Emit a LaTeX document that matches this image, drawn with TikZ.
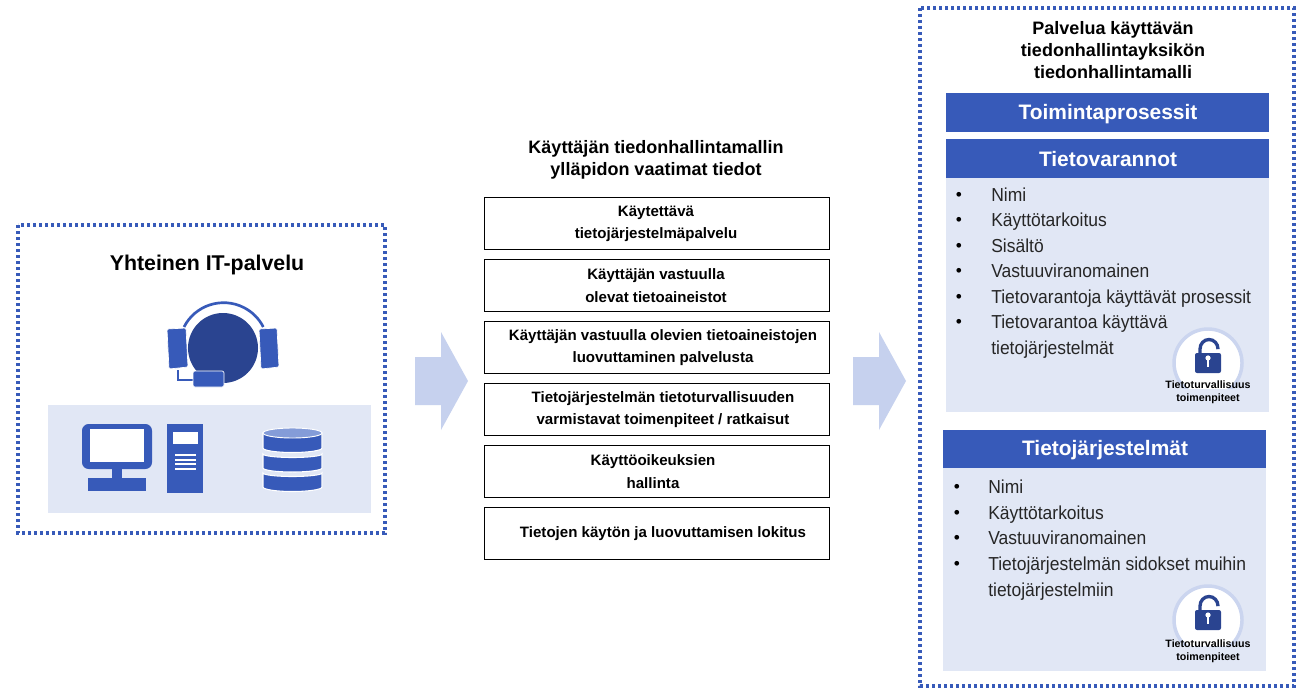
\documentclass[tikz,border=0pt]{standalone}
\usepackage{fontspec}
\setmainfont{Liberation Sans}
\newfontfamily\condfont[FakeStretch=0.93]{Liberation Sans}
\definecolor{blu}{HTML}{375AB9}
\definecolor{dkblu}{HTML}{2A4490}
\definecolor{pale}{HTML}{E1E7F5}
\definecolor{arrowc}{HTML}{C6D1EE}
\definecolor{dbtop}{HTML}{849CD8}
\definecolor{ringc}{HTML}{CBD5EF}
\newcommand{\fs}[1]{\fontsize{#1}{#1}\selectfont}
\tikzset{
 x=0.75pt,y=-0.75pt,
 dotbox/.style={draw=blu,line width=2.6pt,dash pattern=on 2.4pt off 2.1pt},
 infobox/.style={draw=black,line width=0.75pt,fill=white,minimum width=258.75pt,minimum height=39pt,inner sep=0pt},
 boxtext/.style={font=\bfseries\fs{11.3},align=center,text=black,inner sep=0pt},
 headtext/.style={font=\bfseries\fs{13.5},align=center,text=black,inner sep=0pt},
 bandtext/.style={font=\bfseries\fs{15.7},text=white,inner sep=0pt},
 listtext/.style={font=\condfont\fs{14.1},anchor=base west,align=left,inner sep=0pt,text=black!85},
 bul/.style={font=\fs{13},anchor=base,inner sep=0pt,text=black},
 band/.style={fill=blu,draw=none},
 panel/.style={fill=pale,draw=none},
 bigarrow/.style={fill=arrowc,draw=none},
 icon/.style={fill=blu,draw=white,line width=0.5pt},
 dblayer/.style={fill=blu,draw=white,line width=0.8pt},
 smalltext/.style={font=\bfseries\fs{8},align=center,inner sep=0pt,text=black},
 pics/lockicon/.style={code={
   \fill[white,draw=ringc,line width=2.6pt] (0,0) circle[radius=34];
   \fill[pale] (-40,26) rectangle (40,42);
   \draw[dkblu,line width=2.5pt] (-8,-9) -- (-8,-14) arc[start angle=180,end angle=0,x radius=9,y radius=-9.5] -- (10,-15);
   \fill[dkblu,rounded corners=1.5pt] (-13,-10) rectangle (13,10);
   \fill[white] (0,-5) circle[radius=2.6];
   \fill[white] (-1.3,-4) rectangle (1.3,4);
 }},
}
\begin{document}
\begin{tikzpicture}
\useasboundingbox (0,0) rectangle (1298,688);
\fill[white] (0,0) rectangle (1298,688);
% left group
\draw[dotbox] (18,225) rectangle (385,533);
\node[headtext,font=\bfseries\fs{16}] (ltitle) at (207,264.5) {Yhteinen IT-palvelu};
\draw[blu,line width=2pt] (184,327) arc[start angle=153,end angle=27,x radius=44.5,y radius=-44.5];
\fill[dkblu] (223,348) circle[radius=35];
\filldraw[icon,rounded corners=1pt] (167,329) -- (186,328) -- (188,367) -- (169,369) -- cycle;
\filldraw[icon,rounded corners=1pt] (259,329) -- (277,328) -- (279,367) -- (261,369) -- cycle;
\draw[blu,line width=1pt] (178,370) -- (178,380) -- (193,380);
\filldraw[icon,rounded corners=1.5pt] (193,371) rectangle (224,387);
\fill[pale] (48,405) rectangle (371,513);
% computer
\fill[blu,rounded corners=5pt] (82,424) rectangle (152,469);
\fill[white] (90,429) rectangle (144,462);
\fill[blu] (112,469) rectangle (122,478);
\fill[blu] (88,478) rectangle (146,491);
\fill[blu] (167,424) rectangle (203,493);
\fill[white] (173,432) rectangle (198,444);
\foreach \yy in {455,460,464,469} \fill[white] (175,\yy-0.8) rectangle (196,\yy+0.8);
% database
\filldraw[dblayer] (263,473) -- (263,487) arc[start angle=180,end angle=360,x radius=29.5,y radius=-4.5] -- (322,473) arc[start angle=0,end angle=-180,x radius=29.5,y radius=-3.5] -- cycle;
\filldraw[dblayer] (263,454) -- (263,468) arc[start angle=180,end angle=360,x radius=29.5,y radius=-4] -- (322,454) arc[start angle=0,end angle=-180,x radius=29.5,y radius=-3.5] -- cycle;
\filldraw[dblayer] (263,433) -- (263,448) arc[start angle=180,end angle=360,x radius=29.5,y radius=-4.5] -- (322,433) -- cycle;
\filldraw[fill=dbtop,draw=white,line width=0.7pt] (292.5,433) ellipse[x radius=29.5,y radius=5];
% arrows
\fill[bigarrow] (415,357) -- (441,357) -- (441,332) -- (468,381) -- (441,430) -- (441,405) -- (415,405) -- cycle;
\fill[bigarrow] (853,357) -- (879,357) -- (879,332) -- (906,381) -- (879,430) -- (879,405) -- (853,405) -- cycle;
% middle
\node[headtext] (mtitle) at (656,160) {Käyttäjän tiedonhallintamallin\\[3pt]ylläpidon vaatimat tiedot};
\node[infobox] (m1) at (656.5,223) {};
\node[infobox] (m2) at (656.5,285) {};
\node[infobox] (m3) at (656.5,347) {};
\node[infobox] (m4) at (656.5,409) {};
\node[infobox] (m5) at (656.5,471) {};
\node[infobox] (m6) at (656.5,533) {};
\node[boxtext] at (656,223.7) {Käytettävä\\[5.5pt]tietojärjestelmäpalvelu};
\node[boxtext] at (656,285.7) {Käyttäjän vastuulla\\[5.5pt]olevat tietoaineistot};
\node[boxtext] at (663,347.7) {Käyttäjän vastuulla olevien tietoaineistojen\\[5.5pt]luovuttaminen palvelusta};
\node[boxtext] at (663,409.7) {Tietojärjestelmän tietoturvallisuuden\\[5.5pt]varmistavat toimenpiteet / ratkaisut};
\node[boxtext] at (653,471.7) {Käyttöoikeuksien\\[5.5pt]hallinta};
\node[boxtext] at (663,534) {Tietojen käytön ja luovuttamisen lokitus};
% right
\draw[dotbox] (920,8) rectangle (1294,686);
\node[headtext] (rtitle) at (1113,50) {Palvelua käyttävän\\[3.3pt]tiedonhallintayksikön\\[3.3pt]tiedonhallintamalli};
\fill[band] (946,93) rectangle (1269,132);
\node[bandtext] (b1) at (1108,114.5) {Toimintaprosessit};
\fill[panel] (946,178) rectangle (1269,412);
\fill[band] (946,139) rectangle (1269,178);
\node[bandtext] (b2) at (1108,159) {Tietovarannot};
\fill[panel] (943,468) rectangle (1266,671);
\fill[band] (943,430) rectangle (1266,468);
\node[bandtext] (b3) at (1105,450) {Tietojärjestelmät};
\foreach \yy/\tt in {201/Nimi,226/Käyttötarkoitus,252/Sisältö,277/Vastuuviranomainen,303/Tietovarantoja käyttävät prosessit,328/Tietovarantoa käyttävä,354/tietojärjestelmät}{
  \node[listtext] at (991,\yy) {\tt};
}
\foreach \yy in {201,226,252,277,303,328}{\node[bul] at (959,\yy-1) {•};}
\foreach \yy/\tt in {493/Nimi,519/Käyttötarkoitus,544/Vastuuviranomainen,570/Tietojärjestelmän sidokset muihin,596/tietojärjestelmiin}{
  \node[listtext] at (988,\yy) {\tt};
}
\foreach \yy in {493,519,544,570}{\node[bul] at (957,\yy-1) {•};}
\pic at (1208,363) {lockicon};
\pic at (1208,620) {lockicon};
\node[smalltext] (s1) at (1208,392) {Tietoturvallisuus\\[1.75pt]toimenpiteet};
\node[smalltext] (s2) at (1208,651) {Tietoturvallisuus\\[1.75pt]toimenpiteet};
\end{tikzpicture}
\end{document}
